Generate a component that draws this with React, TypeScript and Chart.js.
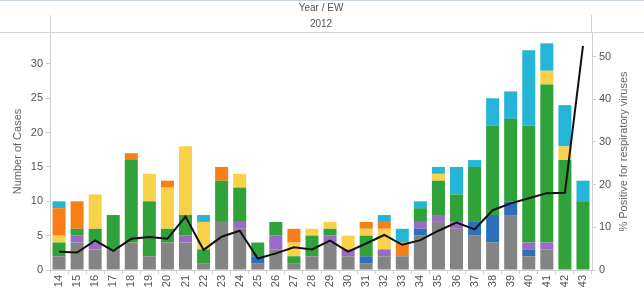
import React, { useEffect, useRef } from "react";
import { Chart, registerables } from "chart.js";

Chart.register(...registerables);

const weeks = ["14","15","16","17","18","19","20","21","22","23","24","25","26","27","28","29","30","31","32","33","34","35","36","37","38","39","40","41","42","43"];

const gray   = [2,4,3,3,4,2,4,4,1,7,6,1,3,1,2,4,2,1,2,2,5,7,6,5,4,8,2,3,0,0];
const blue   = [0,0,0,0,0,0,0,0,0,0,0,1,0,0,0,0,0,1,0,0,1,0,0,2,4,2,1,0,0,0];
const purple = [0,1,1,0,0,0,0,1,0,0,1,0,2,0,0,1,1,0,1,0,1,1,1,0,0,0,1,1,0,0];
const green  = [2,1,2,5,12,8,2,3,2,6,5,2,2,1,3,1,0,3,0,0,2,5,4,8,13,12,17,23,16,10];
const yellow = [1,0,5,0,0,4,6,10,4,0,2,0,0,2,1,1,2,1,3,0,0,1,0,0,0,0,0,2,2,0];
const orange = [4,4,0,0,1,0,1,0,0,2,0,0,0,2,0,0,0,1,1,2,0,0,0,0,0,0,0,0,0,0];
const cyan   = [1,0,0,0,0,0,0,0,1,0,0,0,0,0,0,0,0,0,1,2,1,1,4,1,4,4,11,4,6,3];

const pctPositive = [4.3,4.1,6.9,4.5,7.3,7.7,7.3,12.5,4.7,7.8,9.2,2.7,3.9,5.3,4.8,6.9,4.3,6.2,8.2,5.9,7.0,9.2,11.1,9.5,14.0,15.6,16.8,18.0,18.1,52.5];

const leftTicks = [0,5,10,15,20,25,30];
const rightTicks = [0,10,20,30,40,50];

const headerTitle = "Year / EW";
const headerYear = "2012";
const leftTitle = "Number of Cases";
const rightTitle = "% Positive for respiratory viruses";

const FONT = "'Liberation Sans', Arial, sans-serif";

const headerPlugin = {
  id: "header",
  afterDraw(chart: any) {
    const { ctx, chartArea, width } = chart;
    ctx.save();
    ctx.strokeStyle = "#c9d3dc";
    ctx.lineWidth = 1;
    ctx.beginPath();
    ctx.moveTo(0, 0.5);
    ctx.lineTo(width, 0.5);
    ctx.stroke();
    ctx.strokeStyle = "#d4d4d4";
    ctx.beginPath();
    ctx.moveTo(0, chartArea.top - 0.5);
    ctx.lineTo(width, chartArea.top - 0.5);
    ctx.moveTo(chartArea.left + 0.5, 15);
    ctx.lineTo(chartArea.left + 0.5, chartArea.top);
    ctx.moveTo(chartArea.right - 0.5, 15);
    ctx.lineTo(chartArea.right - 0.5, chartArea.top);
    ctx.stroke();
    ctx.fillStyle = "#555";
    ctx.font = "10px " + FONT;
    ctx.textAlign = "center";
    ctx.textBaseline = "middle";
    const cx = (chartArea.left + chartArea.right) / 2;
    ctx.fillText(headerTitle, cx, 8);
    ctx.fillText(headerYear, cx, 24);
    const cy = (chartArea.top + chartArea.bottom) / 2;
    ctx.font = "11px " + FONT;
    ctx.fillStyle = "#666";
    ctx.save();
    ctx.translate(18, cy);
    ctx.rotate(-Math.PI / 2);
    ctx.fillText(leftTitle, 0, 0);
    ctx.restore();
    ctx.save();
    ctx.translate(624, cy);
    ctx.rotate(-Math.PI / 2);
    ctx.fillText(rightTitle, 0, 0);
    ctx.restore();
    ctx.restore();
  },
};

export default function App() {
  const ref = useRef<HTMLCanvasElement | null>(null);
  useEffect(() => {
    document.body.style.margin = "0";
    if (!ref.current) return;
    const mk = (label: string, data: number[], color: string) => ({
      type: "bar" as const,
      label,
      data,
      backgroundColor: color,
      borderWidth: 0,
      yAxisID: "y",
      order: 1,
      categoryPercentage: 0.8,
      barPercentage: 0.9,
    });
    const chart = new Chart(ref.current, {
      type: "bar",
      data: {
        labels: weeks,
        datasets: [
          {
            type: "line" as const,
            label: "% Positive",
            data: pctPositive,
            borderColor: "#111",
            borderWidth: 2,
            pointRadius: 0,
            tension: 0,
            yAxisID: "y2",
            order: 0,
          } as any,
          mk("Gray", gray, "#848484"),
          mk("Blue", blue, "#2b70b8"),
          mk("Purple", purple, "#996bc4"),
          mk("Green", green, "#2fa33a"),
          mk("Yellow", yellow, "#fad24a"),
          mk("Orange", orange, "#f77f17"),
          mk("Cyan", cyan, "#25b5d6"),
        ],
      },
      options: {
        animation: false,
        responsive: false,
        layout: { padding: { top: 33, left: 0, right: 0, bottom: 0 } },
        plugins: { legend: { display: false }, tooltip: { enabled: false } },
        scales: {
          x: {
            stacked: true,
            grid: { display: true, drawOnChartArea: false, tickLength: 4, color: "#d0d0d0", offset: true },
            border: { color: "#cfcfcf" },
            ticks: { minRotation: 90, maxRotation: 90, autoSkip: false, color: "#555", font: { size: 11, family: FONT }, padding: 1 },
            afterFit: (s: any) => { s.height = 20; },
          },
          y: {
            position: "left",
            stacked: true,
            min: 0,
            max: 34.5,
            afterBuildTicks: (s: any) => { s.ticks = leftTicks.map((v) => ({ value: v })); },
            grid: { drawOnChartArea: false, tickLength: 4, color: "#cfcfcf" },
            border: { color: "#cfcfcf" },
            ticks: { color: "#555", font: { size: 11, family: FONT }, padding: 3 },
            afterFit: (s: any) => { s.width = 50; },
          },
          y2: {
            position: "right",
            min: 0,
            max: 55.5,
            afterBuildTicks: (s: any) => { s.ticks = rightTicks.map((v) => ({ value: v })); },
            grid: { drawOnChartArea: false, tickLength: 4, color: "#cfcfcf" },
            border: { color: "#cfcfcf" },
            ticks: { color: "#555", font: { size: 11, family: FONT }, padding: 3 },
            afterFit: (s: any) => { s.width = 52; },
          },
        },
      },
      plugins: [headerPlugin],
    } as any);
    return () => chart.destroy();
  }, []);
  return (
    <div style={{ width: 644, height: 290 }}>
      <canvas ref={ref} width={644} height={290} style={{ display: "block" }} />
    </div>
  );
}
